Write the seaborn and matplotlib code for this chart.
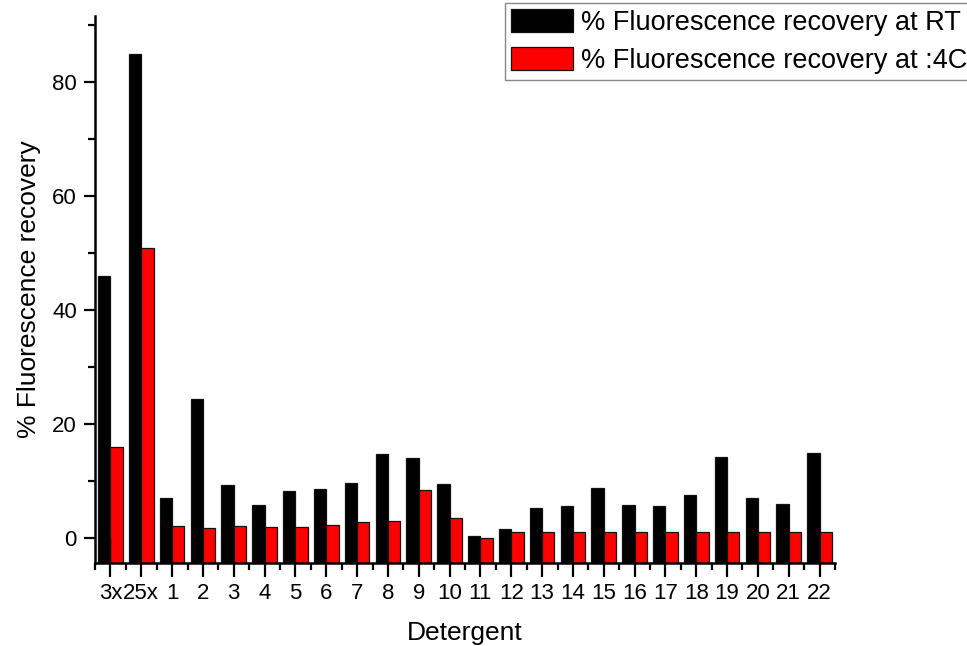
import numpy as np
import pandas as pd
import matplotlib
matplotlib.use("Agg")
import matplotlib.pyplot as plt
from matplotlib.ticker import MultipleLocator, FixedLocator
import seaborn as sns

# ---- data ----
detergents = ["3x", "25x", "1", "2", "3", "4", "5", "6", "7", "8", "9", "10",
              "11", "12", "13", "14", "15", "16", "17", "18", "19", "20", "21", "22"]
recovery_rt = [46.0, 84.8, 7.0, 24.4, 9.4, 5.8, 8.2, 8.6, 9.6, 14.8, 14.0, 9.5,
               0.3, 1.6, 5.2, 5.7, 8.8, 5.8, 5.7, 7.5, 14.3, 7.0, 6.0, 15.0]
recovery_4c = [16.0, 50.8, 2.1, 1.7, 2.1, 1.9, 1.9, 2.3, 2.8, 3.0, 8.4, 3.6,
               0.0, 1.1, 1.1, 1.1, 1.1, 1.1, 1.1, 1.1, 1.1, 1.1, 1.1, 1.1]
series_labels = ["% Fluorescence recovery at RT", "% Fluorescence recovery at :4C"]
series_colors = ["black", "red"]
y_label = "% Fluorescence recovery"
x_label = "Detergent"
y_ticks = [0, 20, 40, 60, 80]

df = pd.DataFrame({
    "Detergent": detergents * 2,
    "value": recovery_rt + recovery_4c,
    "series": [series_labels[0]] * len(detergents) + [series_labels[1]] * len(detergents),
})

sns.set_style("ticks")
plt.rcParams["font.family"] = ["Liberation Sans", "DejaVu Sans"]
plt.rcParams["text.color"] = "black"
plt.rcParams["axes.labelcolor"] = "black"
plt.rcParams["xtick.color"] = "black"
plt.rcParams["ytick.color"] = "black"
plt.rcParams["axes.edgecolor"] = "black"

fig = plt.figure(figsize=(9.67, 6.46), dpi=100)
ax = fig.add_axes([95 / 967, 1 - 562.5 / 646, (835 - 95) / 967, (562.5 - 15.5) / 646])

sns.barplot(data=df, x="Detergent", y="value", hue="series", order=detergents,
            hue_order=series_labels, palette=dict(zip(series_labels, series_colors)),
            saturation=1, width=0.8, edgecolor="#111111", linewidth=0.9, ax=ax, legend=True)

ylo, yhi = -4.27, 91.6
ax.set_ylim(ylo, yhi)
ax.set_xlim(-0.5, len(detergents) - 0.5)

# Bars start from the bottom of the axis (Origin style)
for p in ax.patches:
    h = p.get_y() + p.get_height()
    p.set_y(ylo)
    p.set_height(h - ylo)

for s in ["top", "right"]:
    ax.spines[s].set_visible(False)
for s in ["left", "bottom"]:
    ax.spines[s].set_linewidth(1.8)

ax.yaxis.set_major_locator(FixedLocator(y_ticks))
ax.yaxis.set_minor_locator(MultipleLocator(10))
ax.xaxis.set_minor_locator(FixedLocator(np.arange(-0.5, len(detergents), 1.0)))
ax.tick_params(axis="both", which="major", direction="out", width=1.6, labelsize=16, color="black")
ax.tick_params(axis="y", which="major", length=8, pad=5)
ax.tick_params(axis="x", which="major", length=10, pad=5)
ax.tick_params(axis="both", which="minor", direction="out", width=1.6, length=5, color="black")

ax.set_xlabel(x_label, fontsize=19, labelpad=12)
ax.set_ylabel(y_label, fontsize=19, labelpad=8)

handles, labels = ax.get_legend_handles_labels()
ax.get_legend().remove()
leg = fig.legend(handles, labels, loc="upper left", bbox_to_anchor=(505 / 967, 1 - 3 / 646),
                 fontsize=19.5, frameon=True, fancybox=False, framealpha=1,
                 edgecolor="#888888", handlelength=2.3, handleheight=0.95,
                 handletextpad=0.28, labelspacing=0.4, borderpad=0.22, borderaxespad=0)
leg.get_frame().set_linewidth(1.0)

fig.savefig("out.png", dpi=100)
